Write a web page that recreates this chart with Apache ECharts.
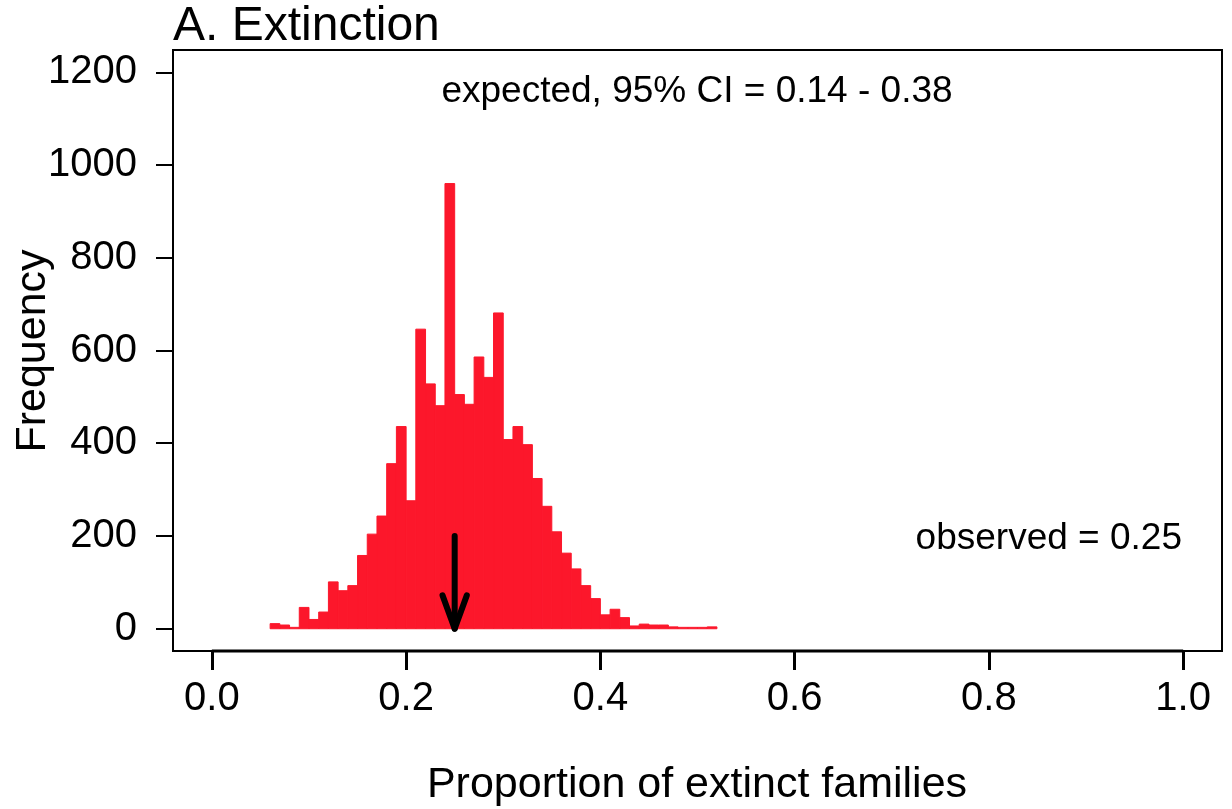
<!DOCTYPE html>
<html>
<head>
<meta charset="utf-8">
<script src="https://cdn.jsdelivr.net/npm/echarts@6/dist/echarts.min.js"></script>
<style>
html,body{margin:0;padding:0;background:#fff;}
#chart{width:1232px;height:809px;}
</style>
</head>
<body>
<div id="chart"></div>
<script>
// ---- data ----
const binLeft  = [0.06,0.07,0.08,0.09,0.10,0.11,0.12,0.13,0.14,0.15,0.16,0.17,0.18,0.19,0.20,0.21,0.22,0.23,0.24,0.25,0.26,0.27,0.28,0.29,0.30,0.31,0.32,0.33,0.34,0.35,0.36,0.37,0.38,0.39,0.40,0.41,0.42,0.43,0.44,0.45,0.46,0.47,0.48,0.49,0.50,0.51];
const binRight = [0.07,0.08,0.09,0.10,0.11,0.12,0.13,0.14,0.15,0.16,0.17,0.18,0.19,0.20,0.21,0.22,0.23,0.24,0.25,0.26,0.27,0.28,0.29,0.30,0.31,0.32,0.33,0.34,0.35,0.36,0.37,0.38,0.39,0.40,0.41,0.42,0.43,0.44,0.45,0.46,0.47,0.48,0.49,0.50,0.51,0.52];
const counts   = [11,8,3,46,20,36,101,82,93,158,204,243,356,436,276,646,528,481,960,505,484,586,542,681,408,436,397,324,264,209,163,129,93,65,30,42,24,6,10,8,8,4,3,3,3,4];
const xTicks = [0, 0.2, 0.4, 0.6, 0.8, 1.0];
const yTicks = [0, 200, 400, 600, 800, 1000, 1200];
const observed = 0.25;
const arrowFrom = 200;
const titleText = 'A. Extinction';
const xTitle = 'Proportion of extinct families';
const yTitle = 'Frequency';
const expectedText = 'expected, 95% CI = 0.14 - 0.38';
const observedText = 'observed = 0.25';

// ---- style ----
const RED = '#FC172B';
const FONT = '"Liberation Sans", Arial, Helvetica, sans-serif';
const X_MIN = -0.04, X_MAX = 1.04, Y_MIN = -48, Y_MAX = 1248;
const HEAD_DX = 0.0125, HEAD_DY = 72;

const histData = binLeft.map((l, i) => [l, binRight[i], counts[i]]);

const chart = echarts.init(document.getElementById('chart'), null, {renderer: 'canvas'});
chart.setOption({
  animation: false,
  backgroundColor: '#fff',
  grid: {left: 173, right: 10, top: 50, bottom: 158, show: true,
         borderColor: '#000', borderWidth: 2, backgroundColor: 'transparent'},
  xAxis: {
    type: 'value', min: X_MIN, max: X_MAX, position: 'bottom',
    axisLine: {show: false, onZero: false},
    splitLine: {show: false},
    axisTick: {show: true, customValues: xTicks, length: 19, inside: false,
               lineStyle: {color: '#000', width: 3}},
    axisLabel: {show: true, customValues: xTicks, margin: 48, verticalAlign: 'middle',
                fontFamily: FONT, fontSize: 40, color: '#000',
                formatter: v => v.toFixed(1)}
  },
  yAxis: {
    type: 'value', min: Y_MIN, max: Y_MAX, position: 'left',
    axisLine: {show: false, onZero: false},
    splitLine: {show: false},
    axisTick: {show: true, customValues: yTicks, length: 17, inside: false,
               lineStyle: {color: '#000', width: 2}},
    axisLabel: {show: true, customValues: yTicks, margin: 36,
                fontFamily: FONT, fontSize: 40, color: '#000',
                formatter: v => String(v)}
  },
  series: [
    {
      type: 'custom',
      data: histData,
      encode: {x: [0, 1], y: 2},
      renderItem: function (params, api) {
        const p0 = api.coord([api.value(0), api.value(2)]);
        const p1 = api.coord([api.value(1), 0]);
        return {type: 'rect',
                shape: {x: p0[0], y: p0[1], width: p1[0] - p0[0], height: p1[1] - p0[1]},
                style: {fill: RED, stroke: RED, lineWidth: 1}};
      },
      z: 2
    },
    {
      type: 'line', data: [[0, Y_MIN], [1, Y_MIN]], symbol: 'none', clip: false,
      lineStyle: {color: '#000', width: 3}, z: 5, silent: true
    },
    {
      type: 'line', data: [[observed, arrowFrom], [observed, 0]], symbol: 'none', clip: false,
      lineStyle: {color: '#000', width: 6, cap: 'round'}, z: 6, silent: true
    },
    {
      type: 'line', data: [[observed - HEAD_DX, HEAD_DY], [observed, 0], [observed + HEAD_DX, HEAD_DY]],
      symbol: 'none', clip: false,
      lineStyle: {color: '#000', width: 6, cap: 'round', join: 'round'}, z: 6, silent: true
    }
  ],
  graphic: [
    {type: 'text', x: 173, y: 27, style: {text: titleText, font: '48px ' + FONT, fill: '#000',
      textAlign: 'left', textVerticalAlign: 'middle'}},
    {type: 'text', x: 697, y: 785, style: {text: xTitle, font: '43px ' + FONT, fill: '#000',
      textAlign: 'center', textVerticalAlign: 'middle'}},
    {type: 'text', x: 33, y: 351, rotation: Math.PI / 2, style: {text: yTitle, font: '43px ' + FONT, fill: '#000',
      textAlign: 'center', textVerticalAlign: 'middle'}},
    {type: 'text', x: 697, y: 92, style: {text: expectedText, font: '37px ' + FONT, fill: '#000',
      textAlign: 'center', textVerticalAlign: 'middle'}},
    {type: 'text', x: 1182, y: 539, style: {text: observedText, font: '37px ' + FONT, fill: '#000',
      textAlign: 'right', textVerticalAlign: 'middle'}}
  ]
});
</script>
</body>
</html>
